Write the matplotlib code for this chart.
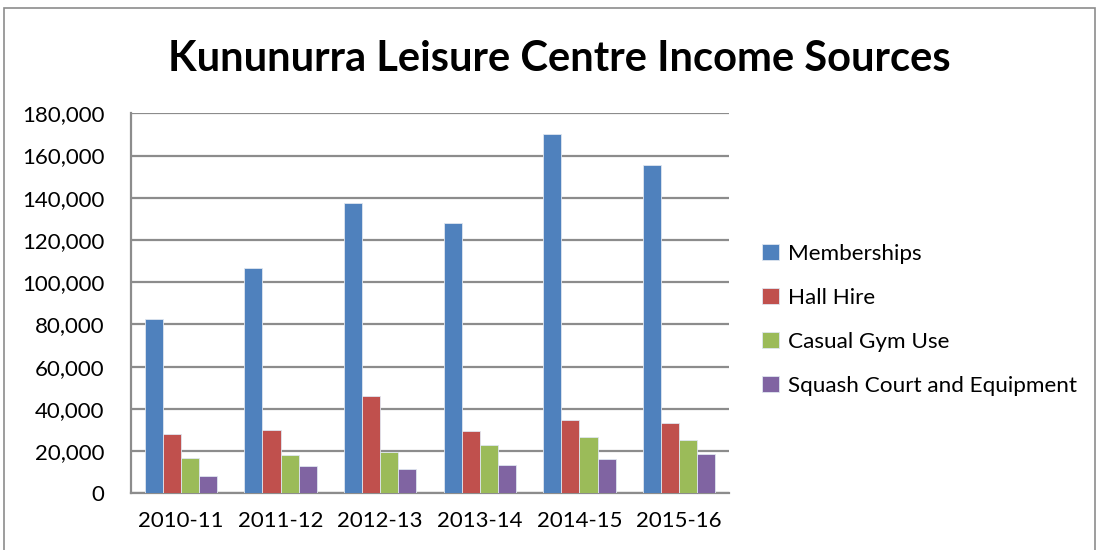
import numpy as np
import matplotlib
matplotlib.use('Agg')
import matplotlib.pyplot as plt
from matplotlib.patches import Rectangle
from matplotlib.ticker import FuncFormatter

years = ['2010-11', '2011-12', '2012-13', '2013-14', '2014-15', '2015-16']
memberships = [82400, 106900, 137700, 127900, 170300, 155500]
hall_hire = [27900, 29800, 46100, 29400, 34600, 33200]
casual_gym = [16700, 18000, 19600, 22700, 26500, 25200]
squash = [8200, 12900, 11700, 13300, 16200, 18600]

series = [('Memberships', memberships, '#4F81BD'),
          ('Hall Hire', hall_hire, '#C0504D'),
          ('Casual Gym Use', casual_gym, '#9BBB59'),
          ('Squash Court and Equipment', squash, '#8064A2')]

plt.rcParams['font.family'] = ['Lato', 'DejaVu Sans']

fig = plt.figure(figsize=(11.04, 5.5), dpi=100)
ax = fig.add_axes([0.1187, 0.1031, 0.5416, 0.6909])

# outer chart border
fig.patches.append(Rectangle((4/1104, -0.1), (1095-4)/1104, 1.1 - 8/550,
                             transform=fig.transFigure, fill=False,
                             edgecolor='#8c8c8c', linewidth=1.2))

x = np.arange(len(years))
w = 0.182
for i, (name, vals, col) in enumerate(series):
    ax.bar(x + (i - 1.5) * w, vals, w, color=col, edgecolor='#dfe6f0',
           linewidth=0.6, label=name, zorder=3)

ax.set_xlim(-0.5, len(years) - 0.5)
ax.set_ylim(0, 180000)
ax.set_yticks(np.arange(0, 180001, 20000))
ax.yaxis.set_major_formatter(FuncFormatter(lambda v, p: f'{int(v):,}'))
ax.set_xticks(x)
ax.set_xticklabels(years)
ax.grid(axis='y', color='#8c8c8c', linewidth=1.6, zorder=0)
for s in ['top', 'right']:
    ax.spines[s].set_visible(False)
for s in ['left', 'bottom']:
    ax.spines[s].set_color('#8c8c8c')
    ax.spines[s].set_linewidth(1.6)
ax.tick_params(axis='both', length=0, labelsize=16, colors='black')
ax.tick_params(axis='x', pad=13)
ax.tick_params(axis='y', pad=19)

fig.text(0.507, 0.893, 'Kununurra Leisure Centre Income Sources',
         ha='center', va='center', fontsize=30, fontweight='bold')

ax.legend(loc='center left', bbox_to_anchor=(1.022, 0.456), frameon=False,
          fontsize=16.2, handlelength=0.75, handleheight=0.7, handletextpad=0.4,
          labelspacing=1.07)

fig.savefig('out.png', dpi=100)
